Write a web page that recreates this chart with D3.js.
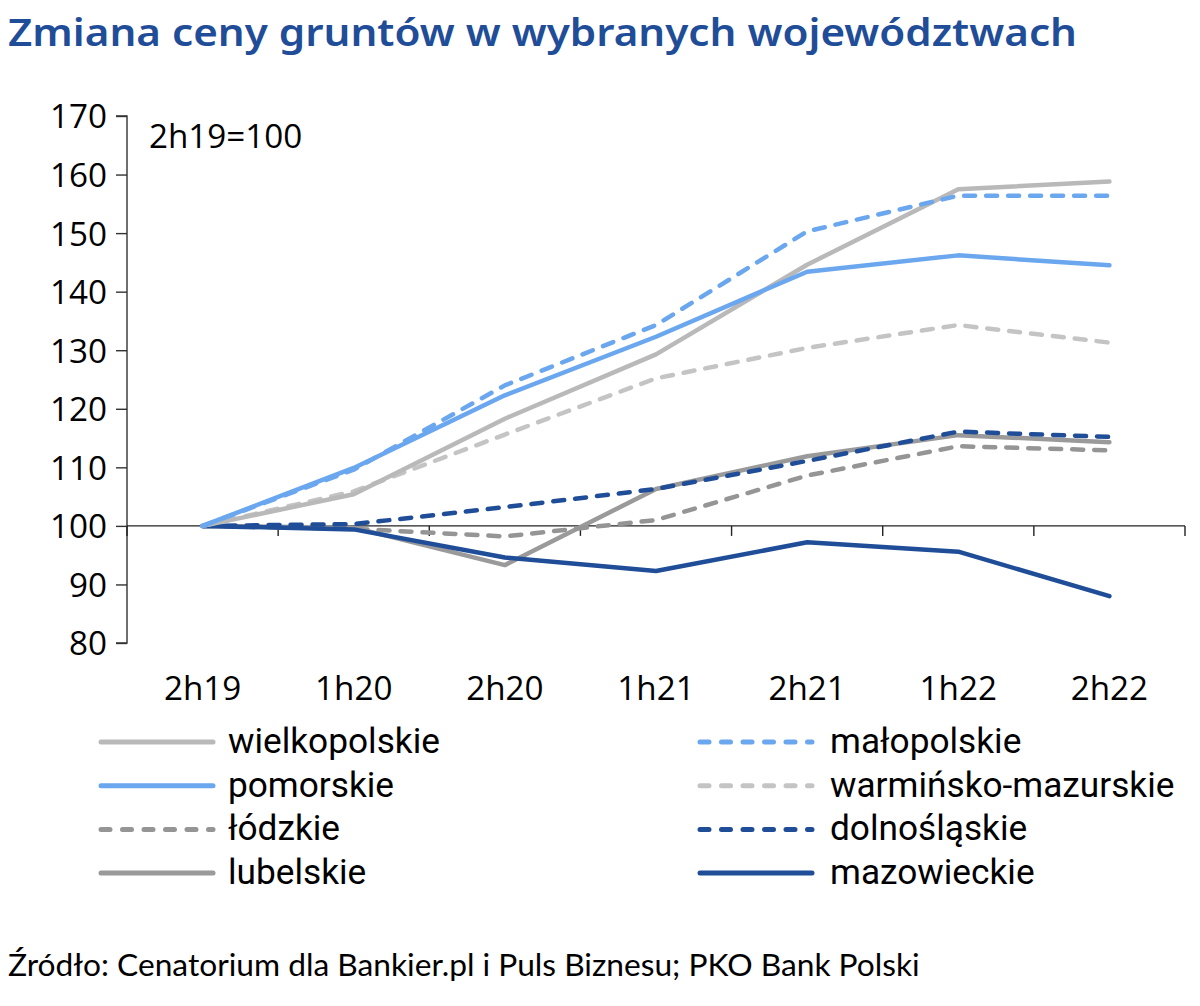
<!DOCTYPE html>
<html><head><meta charset="utf-8">
<script src="https://cdn.jsdelivr.net/npm/d3@7"></script>
<style>body{margin:0;background:#fff}svg{display:block}</style>
</head><body>
<script>
const categories = ["2h19","1h20","2h20","1h21","2h21","1h22","2h22"];
const yTicks = [80,90,100,110,120,130,140,150,160,170];
const wielkopolskie = [100,105.4,118.3,129.3,144.6,157.5,158.8];
const malopolskie   = [100,109.6,124.0,134.3,150.3,156.4,156.4];
const pomorskie     = [100,109.9,122.3,132.3,143.4,146.2,144.5];
const warminsko     = [100,105.9,115.6,125.2,130.4,134.3,131.3];
const lodzkie       = [100,99.5,98.2,101.0,108.6,113.6,112.9];
const dolnoslaskie  = [100,100.3,103.2,106.3,111.1,116.1,115.2];
const lubelskie     = [100,99.7,93.3,106.3,111.9,115.5,114.3];
const mazowieckie   = [100,99.4,94.6,92.3,97.2,95.6,88.0];
const seriesNames = ["wielkopolskie","małopolskie","pomorskie","warmińsko-mazurskie","łódzkie","dolnośląskie","lubelskie","mazowieckie"];
const seriesValues = [wielkopolskie,malopolskie,pomorskie,warminsko,lodzkie,dolnoslaskie,lubelskie,mazowieckie];

const styles = [
  {c:"#b9b9b9",d:null},{c:"#6aa7ee",d:"14,8"},
  {c:"#6aa7ee",d:null},{c:"#c4c4c4",d:"14,8"},
  {c:"#959595",d:"14,8"},{c:"#1f4d98",d:"14,8"},
  {c:"#9a9a9a",d:null},{c:"#1f4d98",d:null}
];
const drawOrder = [6,4,5,7,3,0,2,1];

const W=1200,H=1006;
const svg=d3.select("body").append("svg").attr("width",W).attr("height",H);
const x=d3.scaleBand().domain(categories).range([127,1185]);
const y=d3.scaleLinear().domain([80,170]).range([643,116]);

function fitSize(family,str,target,weight){
  const t=svg.append("text").attr("font-family",family).attr("font-size",100)
    .attr("font-weight",weight||"normal").text(str);
  const w=t.node().getComputedTextLength(); t.remove();
  return 100*target/w;
}
const tickFont="'Open Sans', 'Noto Sans', sans-serif";
const legFont="Roboto, 'Liberation Sans', sans-serif";
const srcFont="Lato, 'Noto Sans', sans-serif";
const tickSize=fitSize(tickFont,"170",57);
const legSize=fitSize(legFont,"wielkopolskie",212);
const srcSize=fitSize(srcFont,"Źródło: Cenatorium dla Bankier.pl i Puls Biznesu; PKO Bank Polski",912);

svg.append("text").attr("x",8).attr("y",46).text("Zmiana ceny gruntów w wybranych województwach")
  .attr("font-family","'Noto Sans','Open Sans',sans-serif").attr("font-weight",600).attr("font-size",37)
  .attr("fill","#1f4d98").attr("textLength",1069).attr("lengthAdjust","spacingAndGlyphs");

// y axis
const ya=svg.append("g").attr("transform","translate(127,0)")
  .call(d3.axisLeft(y).tickValues(yTicks).tickSize(11).tickPadding(9));
ya.selectAll("text").attr("font-family",tickFont).attr("font-size",tickSize).attr("fill","#000").attr("dy","0.36em");
ya.selectAll("line,path").attr("stroke","#333").attr("stroke-width",1.4);
ya.select(".domain").attr("d","M-11,116H0V643H-11");

// x axis at y=100
const xa=svg.append("g").attr("transform",`translate(0,${y(100)})`);
xa.append("line").attr("x1",127).attr("x2",1185).attr("stroke","#222").attr("stroke-width",1.4);
xa.selectAll("line.t").data(categories).enter().append("line")
  .attr("class","t").attr("x1",(d,i)=>127+x.step()*(i+1)).attr("x2",(d,i)=>127+x.step()*(i+1))
  .attr("y1",0).attr("y2",10).attr("stroke","#222").attr("stroke-width",1.4);
xa.append("line").attr("x1",127).attr("x2",127).attr("y1",0).attr("y2",10).attr("stroke","#222").attr("stroke-width",1.4);

svg.append("g").selectAll("text").data(categories).enter().append("text")
  .attr("x",d=>x(d)+x.bandwidth()/2).attr("y",700).attr("text-anchor","middle")
  .attr("font-family",tickFont).attr("font-size",tickSize).text(d=>d);

svg.append("text").attr("x",149).attr("y",148).text("2h19=100")
  .attr("font-family",tickFont).attr("font-size",tickSize);

const line=d3.line().x((d,i)=>x(categories[i])+x.bandwidth()/2).y(d=>y(d));
const g=svg.append("g");
drawOrder.forEach(k=>{
  g.append("path").attr("d",line(seriesValues[k])).attr("fill","none")
   .attr("stroke",styles[k].c).attr("stroke-width",4.5).attr("stroke-linejoin","round")
   .attr("stroke-linecap","round")
   .attr("stroke-dasharray",styles[k].d?"11,11":null);
});

// legend
const lg=svg.append("g");
seriesNames.forEach((n,i)=>{
  const col=i%2,row=Math.floor(i/2);
  const lx=col?697:98, tx=col?830:228, ly=742+row*43.7;
  lg.append("line").attr("x1",lx+3).attr("x2",lx+115).attr("y1",ly).attr("y2",ly)
    .attr("stroke",styles[i].c).attr("stroke-width",5).attr("stroke-linecap","round")
    .attr("stroke-dasharray",styles[i].d?"9,12.5":null);
  lg.append("text").attr("x",tx).attr("y",ly+11).text(n)
    .attr("font-family",legFont).attr("font-size",legSize).attr("fill","#000");
});

svg.append("text").attr("x",8).attr("y",976).text("Źródło: Cenatorium dla Bankier.pl i Puls Biznesu; PKO Bank Polski")
  .attr("font-family",srcFont).attr("font-size",srcSize).attr("fill","#000");
</script>
</body></html>
